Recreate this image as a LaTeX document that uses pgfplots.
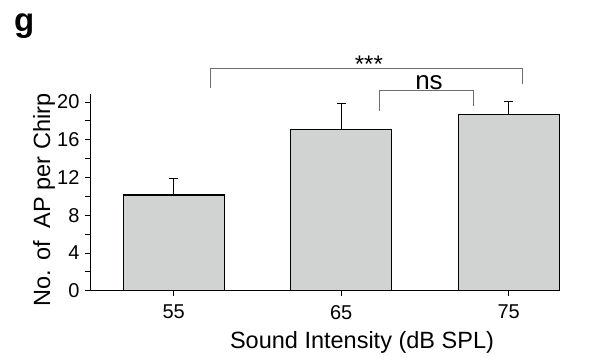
\documentclass[border=0pt]{standalone}
\usepackage{pgfplots}
\pgfplotsset{compat=1.18}
\usepackage{fontspec}
\setmainfont{Liberation Sans}
\definecolor{barfill}{RGB}{209,211,210}
\definecolor{brk}{RGB}{110,110,110}
\begin{document}
\begin{tikzpicture}
\path[use as bounding box] (0pt,0pt) rectangle (590pt,357pt);
\node[anchor=base west, inner sep=0pt, font=\fontsize{33}{35}\selectfont\bfseries] at (14pt,325pt) {g};
\node[rotate=90, anchor=base, inner sep=0pt, font=\fontsize{23.5}{26}\selectfont] at (50pt,157pt) {No. of\ \ AP per Chirp};
\node[anchor=base, inner sep=0pt, font=\fontsize{23.5}{26}\selectfont] at (362pt,8.7pt) {Sound Intensity (dB SPL)};
\begin{axis}[
  at={(90pt,66.3pt)}, anchor=south west,
  scale only axis, width=469pt, height=196.7pt,
  xmin=-0.5, xmax=2.3, ymin=0, ymax=20.85,
  axis x line*=bottom, axis y line*=left,
  axis line style={black, line width=0.9pt},
  clip=false,
  ybar, bar width=101pt,
  xtick={0,1,2}, xticklabels={55,65,75},
  ytick={0,4,...,20}, minor ytick={2,6,...,18},
  tick align=outside, major tick length=5pt, minor tick length=5pt,
  tick style={black, line width=0.8pt},
  ticklabel style={font=\fontsize{20}{22}\selectfont},
  xticklabel style={yshift=-6pt},
  yticklabel style={xshift=-2pt},
  /pgf/number format/assume math mode=true,
]
\addplot[fill=barfill, draw=black, line width=1.3pt,
  error bars/.cd, y dir=plus, y explicit,
  error bar style={line width=0.9pt, black},
  error mark options={line width=0.9pt, mark size=4.3pt, rotate=90}]
  coordinates {(0,10.15) +- (0,1.70) (1,17.07) +- (0,2.76) (2,18.66) +- (0,1.38)};
\draw[brk, line width=1pt] (axis cs:0.222,21.46) -- (axis cs:0.222,23.5) -- (axis cs:2.08,23.5) -- (axis cs:2.08,21.9);
\draw[brk, line width=1pt] (axis cs:1.226,19.06) -- (axis cs:1.226,21.2) -- (axis cs:1.787,21.2) -- (axis cs:1.787,19.6);
\node[anchor=base, inner sep=0pt, font=\fontsize{24}{26}\selectfont] at (axis cs:1.165,23.1) {***};
\node[anchor=base, inner sep=0pt, font=\fontsize{26}{28}\selectfont] at (axis cs:1.524,21.28) {ns};
\end{axis}
\end{tikzpicture}
\end{document}
